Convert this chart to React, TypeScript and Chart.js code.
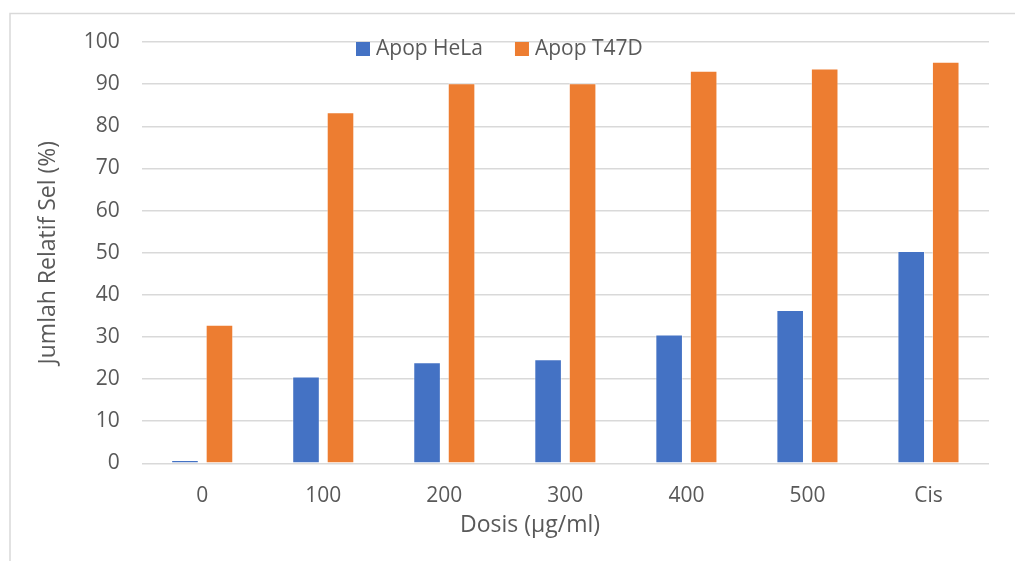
import React, { useEffect, useRef } from "react";
import { Chart, registerables } from "chart.js";

Chart.register(...registerables);

// Dose groups on the x axis
const doses: string[] = ["0", "100", "200", "300", "400", "500", "Cis"];

// Apoptotic cell share (%) per dose
const apopHeLa: number[] = [0.8, 20.6, 24.0, 24.7, 30.6, 36.4, 50.4];
const apopT47D: number[] = [32.9, 83.3, 90.2, 90.2, 93.2, 93.7, 95.3];

const seriesNames: string[] = ["Apop HeLa", "Apop T47D"];
const seriesColors: string[] = ["#4472C4", "#ED7D31"];

const yTitle = "Jumlah Relatif Sel (%)";
const xTitle = "Dosis (µg/ml)";

const FONT = "'Open Sans', 'Noto Sans', sans-serif";
const TEXT = "#595959";
const GRID = "#D9D9D9";
const TICK_SIZE = 21;
const TITLE_SIZE = 23;

// Outer frame, legend row and x-axis title
const decorations = {
  id: "decorations",
  beforeDraw(chart: Chart) {
    const ctx = chart.ctx;
    ctx.save();
    ctx.strokeStyle = GRID;
    ctx.lineWidth = 1.5;
    ctx.strokeRect(10, 13.5, chart.width + 20, chart.height + 20);
    ctx.restore();
  },
  afterDraw(chart: Chart) {
    const ctx = chart.ctx;
    ctx.save();
    ctx.fillStyle = TEXT;
    ctx.textBaseline = "middle";

    // legend
    ctx.font = `${TICK_SIZE}px ${FONT}`;
    let x = 356;
    const y = 49;
    chart.data.datasets.forEach((ds: any) => {
      ctx.fillStyle = ds.backgroundColor as string;
      ctx.fillRect(x, y - 7, 14, 14);
      ctx.fillStyle = TEXT;
      ctx.textAlign = "left";
      const label = ds.label as string;
      ctx.fillText(label, x + 20, y);
      x += 20 + ctx.measureText(label).width + 32;
    });

    // x-axis title
    ctx.font = `${TITLE_SIZE}px ${FONT}`;
    ctx.textAlign = "center";
    ctx.fillText(xTitle, 530, 525);
    ctx.restore();
  },
};

export default function App() {
  const canvasRef = useRef<HTMLCanvasElement | null>(null);

  useEffect(() => {
    if (!canvasRef.current) return;
    const chart = new Chart(canvasRef.current, {
      type: "bar",
      data: {
        labels: doses,
        datasets: [
          {
            label: seriesNames[0],
            data: apopHeLa,
            backgroundColor: seriesColors[0],
            borderColor: "rgba(255,255,255,0.45)",
            borderWidth: 1,
            categoryPercentage: 0.57,
            barPercentage: 0.8,
          },
          {
            label: seriesNames[1],
            data: apopT47D,
            backgroundColor: seriesColors[1],
            borderColor: "rgba(255,255,255,0.45)",
            borderWidth: 1,
            categoryPercentage: 0.57,
            barPercentage: 0.8,
          },
        ],
      },
      options: {
        animation: false,
        responsive: false,
        maintainAspectRatio: false,
        layout: { padding: { top: 42, right: 26, left: 0, bottom: 0 } },
        plugins: {
          legend: { display: false },
          tooltip: { enabled: false },
        },
        scales: {
          x: {
            grid: { display: false, drawTicks: false },
            border: { display: false },
            ticks: { color: TEXT, font: { family: FONT, size: TICK_SIZE }, padding: 20 },
            afterFit(scale: any) {
              scale.height = 97.7;
            },
          },
          y: {
            min: 0,
            max: 100,
            ticks: {
              stepSize: 10,
              color: TEXT,
              font: { family: FONT, size: TICK_SIZE },
              padding: 22,
            },
            grid: { color: GRID, lineWidth: 1.5, drawTicks: false },
            border: { display: false },
            title: {
              display: true,
              text: yTitle,
              color: TEXT,
              font: { family: FONT, size: TITLE_SIZE },
              padding: { top: 35, bottom: 0 },
            },
            afterFit(scale: any) {
              scale.width = 141.7;
            },
          },
        },
      },
      plugins: [decorations],
    });
    return () => chart.destroy();
  }, []);

  return (
    <div style={{ position: "fixed", left: 0, top: 0, width: 1015, height: 561, background: "#fff" }}>
      <canvas ref={canvasRef} width={1015} height={561} style={{ display: "block" }} />
    </div>
  );
}
